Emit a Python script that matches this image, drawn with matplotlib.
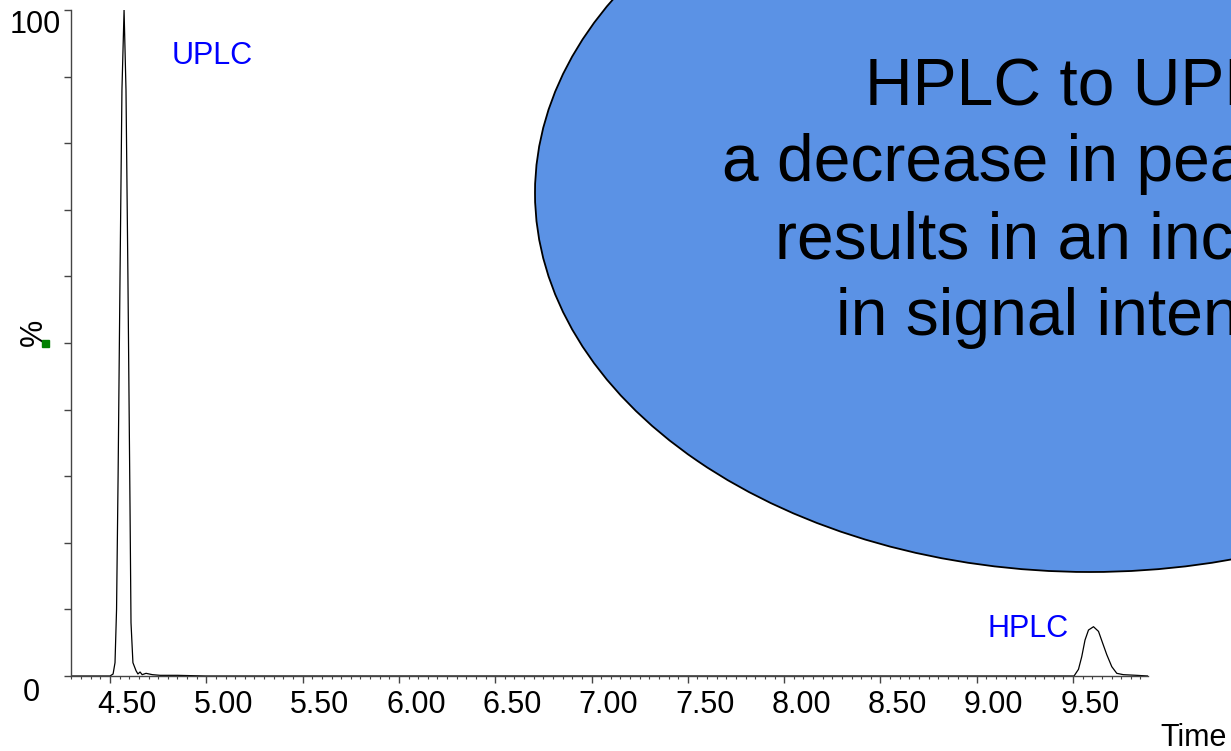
import numpy as np
import matplotlib
matplotlib.use("Agg")
import matplotlib.pyplot as plt
from matplotlib.patches import Ellipse, Rectangle
from matplotlib.transforms import ScaledTranslation

plt.rcParams['font.family'] = ['Liberation Sans', 'DejaVu Sans']

# chromatogram trace (time in min, intensity in %)
time = [4.30, 4.40, 4.48, 4.50, 4.516, 4.526, 4.534, 4.542, 4.552, 4.562, 4.573,
        4.583, 4.593, 4.604, 4.609, 4.619, 4.635, 4.645, 4.656, 4.667, 4.687,
        4.72, 4.76, 4.85, 5.00, 5.50, 6.00, 7.00, 8.00, 9.00, 9.40, 9.505,
        9.528, 9.545, 9.562, 9.580, 9.606, 9.632, 9.654, 9.675, 9.701, 9.727,
        9.761, 9.83, 9.889]
intensity = [0.0, 0.0, 0.0, 0.0, 0.3, 2.0, 10.0, 30.0, 60.0, 88.0, 100.0,
             88.0, 60.0, 25.0, 8.0, 2.0, 0.8, 0.3, 0.6, 0.2, 0.4,
             0.2, 0.1, 0.1, 0.0, 0.0, 0.0, 0.0, 0.0, 0.0, 0.0, 0.0,
             1.0, 2.9, 5.4, 6.9, 7.4, 6.7, 4.9, 3.2, 1.4, 0.4,
             0.2, 0.1, 0.0]

x_major = [4.5, 5.0, 5.5, 6.0, 6.5, 7.0, 7.5, 8.0, 8.5, 9.0, 9.5]
x_labels = ["4.50", "5.00", "5.50", "6.00", "6.50", "7.00", "7.50",
            "8.00", "8.50", "9.00", "9.50"]
y_major = [0, 10, 20, 30, 40, 50, 60, 70, 80, 90, 100]

note_lines = ["HPLC to UPLC", "a decrease in peak width",
              "results in an increase", "in signal intensity"]

W, H = 1231, 751


def fx(px):
    return px / W


def fy(py):
    return 1 - py / H


fig = plt.figure(figsize=(W / 100, H / 100), dpi=100)
ax = fig.add_axes([fx(71), fy(676), (1148 - 71) / W, (676 - 10) / H])

ax.plot(time, intensity, color="black", lw=0.9)

ax.set_xlim(4.2975, 9.889)
ax.set_ylim(0, 100)
for s in ["top", "right"]:
    ax.spines[s].set_visible(False)
for s in ["left", "bottom"]:
    ax.spines[s].set_color("#444444")
    ax.spines[s].set_linewidth(1.0)

ax.set_xticks(x_major)
ax.set_xticklabels(x_labels, fontsize=22)
ax.set_xticks(np.arange(4.30, 9.89, 0.05), minor=True)
ax.tick_params(axis="x", which="major", length=5, width=1, pad=5, color="#444444")
ax.tick_params(axis="x", which="minor", length=2.5, width=0.8, color="#444444")
# labels sit a bit right of their ticks in the original
offset = ScaledTranslation(17 / 100, 0, fig.dpi_scale_trans)
for lbl in ax.get_xticklabels():
    lbl.set_transform(lbl.get_transform() + offset)

ax.set_yticks(y_major)
ax.set_yticklabels([])
ax.tick_params(axis="y", length=5, width=1, color="#444444")

fig.text(fx(61), fy(33), "100", fontsize=22, ha="right", va="baseline")
fig.text(fx(31), fy(701), "0", fontsize=22, ha="center", va="baseline")
fig.text(fx(1160), fy(746), "Time", fontsize=22, ha="left", va="baseline")
fig.text(fx(34), fy(332), "%", fontsize=22, rotation=90, ha="center", va="center")
fig.patches.append(Rectangle((fx(41.5), fy(346.5)), 7 / W, 7 / H,
                             transform=fig.transFigure, color="green", zorder=5))

fig.text(fx(172), fy(64), "UPLC", fontsize=22, color="blue", ha="left", va="baseline")
fig.text(fx(988), fy(637), "HPLC", fontsize=22, color="blue", ha="left", va="baseline")

ell = Ellipse((fx(1090), fy(193)), 1110 / W, 758 / H, transform=fig.transFigure,
              facecolor="#5b92e5", edgecolor="black", lw=1.3, zorder=10)
fig.patches.append(ell)
baselines = [105, 181, 258, 335]
for line, b in zip(note_lines, baselines):
    fig.text(fx(1087), fy(b), line, fontsize=47.5, ha="center", va="baseline", zorder=11)

fig.savefig("out.png", dpi=100)
